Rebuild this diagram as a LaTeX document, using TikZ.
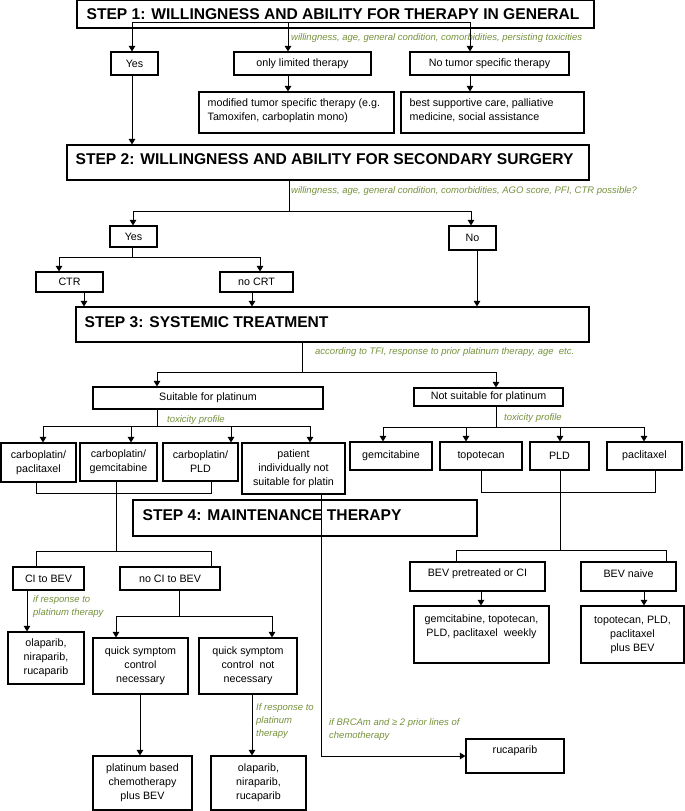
\documentclass[tikz,border=0pt]{standalone}
\usepackage{fontspec}
\setmainfont{Liberation Sans}
\usetikzlibrary{arrows.meta}
\definecolor{grn}{RGB}{118,146,60}
\newcommand\mybox[7][]{%
  \pgfmathsetmacro\mbw{#5-#3}\pgfmathsetmacro\mbh{#6-#4}%
  \pgfmathsetmacro\mbcx{(#3+#5)/2}\pgfmathsetmacro\mbcy{(#4+#6)/2}%
  \node[box,minimum width=\mbw pt,minimum height=\mbh pt,#1] (#2) at (\mbcx,\mbcy) {#7};}
\begin{document}
\begin{tikzpicture}[x=1pt,y=-1pt,
  box/.style={draw, line width=1.1pt, inner sep=0pt, align=center, font=\fontsize{10.7}{14}\selectfont},
  txt/.style={inner sep=0pt, font=\fontsize{10.7}{14}\selectfont},
  ln/.style={line width=1pt},
  arr/.style={line width=1pt, -{Triangle[length=5.5pt,width=6.5pt]}},
  note/.style={text=grn, font=\fontsize{9.5}{13}\selectfont\itshape, inner sep=0pt, align=left, anchor=west},
  ttl/.style={font=\fontsize{15.6}{18}\selectfont\bfseries, inner sep=0pt, anchor=west}]
\fill[white] (0,0) rectangle (685,811);
\useasboundingbox (0,0) rectangle (685,811);
% ---------- boxes ----------
\mybox{s1}{77}{0.8}{594}{28}{}
\node[ttl] (s1t) at ([xshift=10pt]s1.west) {STEP 1: WILLINGNESS AND ABILITY FOR THERAPY IN GENERAL};
\mybox{yes1}{111}{52}{158}{75}{Yes}
\mybox{lim}{234}{52}{371}{75}{only limited therapy}
\mybox{notum}{410}{52}{569}{75}{No tumor specific therapy}
\mybox{mod}{199}{92}{394}{133}{}
\node[txt, anchor=west, align=left] (modt) at ([xshift=9pt,yshift=2pt]mod.west) {modified tumor specific therapy (e.g.\\Tamoxifen, carboplatin mono)};
\mybox{best}{401}{92}{584}{133}{}
\node[txt, anchor=west, align=left] (bestt) at ([xshift=9pt,yshift=2pt]best.west) {best supportive care, palliative\\medicine, social assistance};
\mybox{s2}{67}{145}{589}{180}{}
\node[ttl] (s2t) at ([xshift=9pt,yshift=3pt]s2.west) {STEP 2: WILLINGNESS AND ABILITY FOR SECONDARY SURGERY};
\mybox{yes2}{110}{226}{157}{247}{Yes}
\mybox{no2}{449}{226}{496}{250}{No}
\mybox{ctr}{36}{272}{103}{292}{CTR}
\mybox{nocrt}{220}{272}{293}{292}{no CRT}
\mybox{s3}{76}{307}{589}{342}{}
\node[ttl] (s3t) at ([xshift=9pt,yshift=2.5pt]s3.west) {STEP 3: SYSTEMIC TREATMENT};
\mybox{suit}{93}{387}{323}{409}{Suitable for platinum}
\mybox{notsuit}{414}{388}{563}{406}{Not suitable for platinum}
\mybox{cpp}{1}{443}{76}{482}{carboplatin/\\paclitaxel}
\mybox{cpg}{80}{443}{157}{481}{carboplatin/\\gemcitabine}
\mybox{cpl}{163}{443}{238}{481}{carboplatin/\\PLD}
\mybox{pat}{242}{443}{345}{494}{patient\\individually not\\suitable for platin}
\mybox{gem}{350}{442}{432}{470}{gemcitabine}
\mybox{topo}{440}{442}{522}{470}{topotecan}
\mybox{pld}{530}{442}{589}{470}{PLD}
\mybox{pac}{607}{442}{682}{470}{paclitaxel}
\mybox{s4}{133}{500}{477}{536}{}
\node[ttl] (s4t) at ([xshift=10pt,yshift=3pt]s4.west) {STEP 4: MAINTENANCE THERAPY};
\mybox{ci}{13}{567}{84}{590}{CI to BEV}
\mybox{noci}{120}{567}{220}{590}{no CI to BEV}
\mybox{bevpre}{410}{562}{545}{591}{}
\node[txt] (bevpret) at ([yshift=3pt]bevpre.center) {BEV pretreated or CI};
\mybox{bevnai}{581}{562}{676}{591}{}
\node[txt] (bevnait) at ([yshift=3pt]bevnai.center) {BEV naive};
\mybox{ola1}{8}{632}{84}{684}{olaparib,\\niraparib,\\rucaparib}
\mybox{qn}{93}{638}{188}{694}{quick symptom\\control\\necessary}
\mybox{qnn}{199}{638}{297}{694}{quick symptom\\control\ \ not\\necessary}
\mybox{gemr}{414}{606}{549}{663}{}
\node[txt, anchor=north, align=center] (gemrt) at ([yshift=-9pt]gemr.north) {gemcitabine, topotecan,\\PLD, paclitaxel\ \ weekly};
\mybox{topr}{581}{606}{684}{663}{topotecan, PLD,\\paclitaxel\\plus BEV}
\mybox{plat}{93}{756}{192}{810}{platinum based\\chemotherapy\\plus BEV}
\mybox{ola2}{211}{756}{306}{810}{olaparib,\\niraparib,\\rucaparib}
\mybox{ruc}{466}{739}{564}{773}{}
\node[txt] (ruct) at ([yshift=5pt]ruc.center) {rucaparib};
% ---------- green notes ----------
\node[note] (gA) at (291,38) {willingness, age, general condition, comorbidities, persisting toxicities};
\node[note] (gB) at (291,191) {willingness, age, general condition, comorbidities, AGO score, PFI, CTR possible?};
\node[note] (gC) at (315,352) {according to TFI, response to prior platinum therapy, age\ \ etc.};
\node[note] (gD) at (167,420) {toxicity profile};
\node[note] (gE) at (504,418) {toxicity profile};
\node[note] (gF) at (33,606.5) {if response to\\platinum therapy};
\node[note] (gG) at (256,721) {If response to\\platinum\\therapy};
\node[note] (gH) at (329,730) {if BRCAm and ≥ 2 prior lines of\\chemotherapy};
% ---------- connectors ----------
\coordinate (a1) at (132,22);
\coordinate (a2) at (288,22);
\coordinate (a3) at (470,22);
\draw[ln] (a1) -- (a3);
\draw[arr] (a1) -- (a1 |- yes1.north);
\draw[arr] (a2) -- (a2 |- lim.north);
\draw[arr] (a3) -- (a3 |- notum.north);
\draw[arr] (a2 |- lim.south) -- (a2 |- mod.north);
\draw[arr] (a3 |- notum.south) -- (a3 |- best.north);
\draw[arr] (a1 |- yes1.south) -- (a1 |- s2.north);
% step 2
\coordinate (b0) at (289,211);
\coordinate (b1) at (133,211);
\coordinate (b2) at (471,211);
\draw[ln] (b0 |- s2.south) -- (b0);
\draw[ln] (b1) -- (b2);
\draw[arr] (b1) -- (b1 |- yes2.north);
\draw[arr] (b2) -- (b2 |- no2.north);
\coordinate (c0) at (132,257);
\coordinate (c1) at (59,257);
\coordinate (c2) at (260,257);
\draw[ln] (c0 |- yes2.south) -- (c0);
\draw[ln] (c1) -- (c2);
\draw[arr] (c1) -- (c1 |- ctr.north);
\draw[arr] (c2) -- (c2 |- nocrt.north);
\coordinate (d1) at (84,300);
\coordinate (d2) at (252,300);
\coordinate (d3) at (477,300);
\draw[arr] (d1 |- ctr.south) -- (d1 |- s3.north);
\draw[arr] (d2 |- nocrt.south) -- (d2 |- s3.north);
\draw[arr] (d3 |- no2.south) -- (d3 |- s3.north);
% step 3
\coordinate (e0) at (302,372);
\coordinate (e1) at (157,372);
\coordinate (e2) at (496,372);
\draw[ln] (e0 |- s3.south) -- (e0);
\draw[ln] (e1) -- (e2);
\draw[arr] (e1) -- (e1 |- suit.north);
\draw[arr] (e2) -- (e2 |- notsuit.north);
\coordinate (f0) at (157,426);
\coordinate (f1) at (43,426);
\coordinate (f2) at (131,426);
\coordinate (f3) at (231,426);
\coordinate (f4) at (310,426);
\draw[ln] (f0 |- suit.south) -- (f0);
\draw[ln] (f1) -- (f4);
\draw[arr] (f1) -- (f1 |- cpp.north);
\draw[arr] (f2) -- (f2 |- cpg.north);
\draw[arr] (f3) -- (f3 |- cpl.north);
\draw[arr] (f4) -- (f4 |- pat.north);
\coordinate (g0) at (496,427);
\coordinate (g1) at (383,427);
\coordinate (g2) at (466,427);
\coordinate (g3) at (560,427);
\coordinate (g4) at (644,427);
\draw[ln] (g0 |- notsuit.south) -- (g0);
\draw[ln] (g1) -- (g4);
\draw[arr] (g1) -- (g1 |- gem.north);
\draw[arr] (g2) -- (g2 |- topo.north);
\draw[arr] (g3) -- (g3 |- pld.north);
\draw[arr] (g4) -- (g4 |- pac.north);
% brackets
\coordinate (h1) at (36,493);
\coordinate (h2) at (211,493);
\draw[ln] (h1 |- cpp.south) -- (h1) -- (h2) -- (h2 |- cpl.south);
\coordinate (i1) at (481,492);
\coordinate (i2) at (655,492);
\draw[ln] (i1 |- topo.south) -- (i1) -- (i2) -- (i2 |- pac.south);
% step 4
\coordinate (k0) at (116,551);
\coordinate (k1) at (36,551);
\coordinate (k2) at (211,551);
\draw[ln] (k0 |- cpg.south) -- (k0);
\draw[ln] (k1 |- ci.north) -- (k1) -- (k2) -- (k2 |- noci.north);
\coordinate (m0) at (560,550);
\coordinate (m1) at (456,550);
\coordinate (m2) at (666,550);
\draw[ln] (m0 |- pld.south) -- (m0);
\draw[ln] (m1 |- bevpre.north) -- (m1) -- (m2) -- (m2 |- bevnai.north);
\coordinate (n1) at (481,598);
\coordinate (n2) at (644,598);
\draw[arr] (n1 |- bevpre.south) -- (n1 |- gemr.north);
\draw[arr] (n2 |- bevnai.south) -- (n2 |- topr.north);
\coordinate (p1) at (27,600);
\draw[arr] (p1 |- ci.south) -- (p1 |- ola1.north);
\coordinate (q0) at (179,616);
\coordinate (q1) at (116,616);
\coordinate (q2) at (272,616);
\draw[ln] (q0 |- noci.south) -- (q0);
\draw[ln] (q1) -- (q2);
\draw[arr] (q1) -- (q1 |- qn.north);
\draw[arr] (q2) -- (q2 |- qnn.north);
\coordinate (r1) at (140,720);
\coordinate (r2) at (252,720);
\draw[arr] (r1 |- qn.south) -- (r1 |- plat.north);
\draw[arr] (r2 |- qnn.south) -- (r2 |- ola2.north);
\coordinate (v0) at (321,756);
\draw[arr] (v0 |- pat.south) -- (v0) -- (ruc.west |- v0);
\end{tikzpicture}
\end{document}
